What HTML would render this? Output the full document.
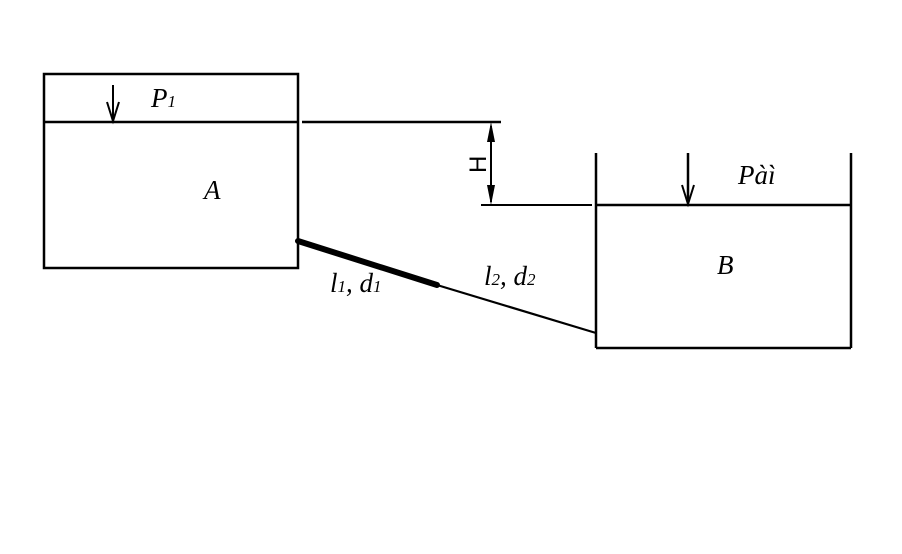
<!DOCTYPE html>
<html><head><meta charset="utf-8"><style>
html,body{margin:0;padding:0;background:#fff;}
svg{display:block;}
text{font-family:"Liberation Serif",serif;font-style:italic;fill:#000;}
</style></head><body>
<svg width="902" height="554" viewBox="0 0 902 554" xmlns="http://www.w3.org/2000/svg">
<g stroke="#000" fill="none" stroke-width="2.5">
<rect x="44" y="74" width="254" height="194" stroke-width="2.5"/>
<line x1="44" y1="122" x2="298" y2="122"/>
<line x1="302" y1="122" x2="501" y2="122"/>
<line x1="113" y1="85" x2="113" y2="120" stroke-width="2"/>
<polyline points="107,102 113,121 119,102" stroke-width="2"/>
<line x1="491" y1="126" x2="491" y2="202" stroke-width="2"/>
<line x1="481" y1="205" x2="592" y2="205" stroke-width="2"/>
<line x1="596" y1="153" x2="596" y2="348"/>
<line x1="851" y1="153" x2="851" y2="348"/>
<line x1="596" y1="348" x2="851" y2="348"/>
<line x1="596" y1="205" x2="851" y2="205"/>
<line x1="688" y1="153" x2="688" y2="202" stroke-width="2.5"/>
<polyline points="682,185 688,204 694,185" stroke-width="2"/>
<line x1="298" y1="241" x2="437" y2="285" stroke-width="6" stroke-linecap="round"/>
<line x1="437" y1="285" x2="596" y2="333" stroke-width="2.2"/>
</g>
<polygon points="491,122 487,142 495,142" fill="#000"/>
<polygon points="491,205 487,185 495,185" fill="#000"/>
<text x="151" y="107" font-size="27">P<tspan font-size="17">1</tspan></text>
<text x="204" y="199" font-size="27">A</text>
<text x="738" y="184" font-size="27">Pàì</text>
<text x="717" y="274" font-size="27">B</text>
<text x="330" y="292" font-size="27">l<tspan font-size="17">1</tspan>, d<tspan font-size="17">1</tspan></text>
<text x="484" y="285" font-size="27">l<tspan font-size="17">2</tspan>, d<tspan font-size="17">2</tspan></text>
<text x="0" y="0" style="font-style:normal;font-family:'Liberation Sans',sans-serif;font-size:24px" transform="translate(486,173) rotate(-90)">H</text>
</svg>
</body></html>
